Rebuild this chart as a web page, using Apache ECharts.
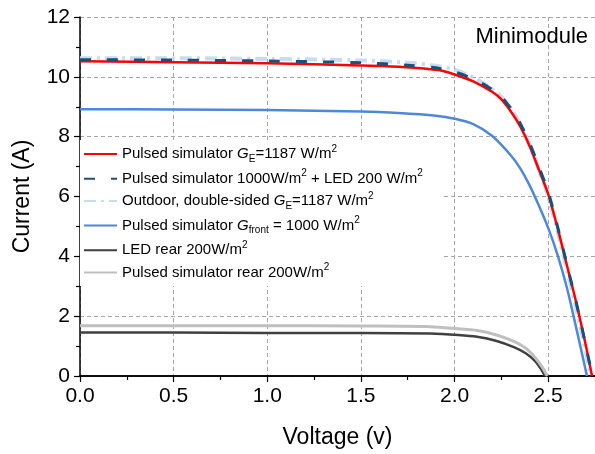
<!DOCTYPE html>
<html>
<head>
<meta charset="utf-8">
<script src="https://cdn.jsdelivr.net/npm/echarts@6/dist/echarts.min.js"></script>
<style>
  html, body { margin: 0; padding: 0; background: #fff; }
  #chart { width: 595px; height: 454px; }
</style>
</head>
<body>
<div id="chart"></div>
<script>
// I-V curves, [voltage V, current A]
const pulsedGE = [[0, 10.52], [0.5, 10.49], [1.0, 10.45], [1.5, 10.38], [1.72, 10.33], [1.92, 10.22], [2.0, 10.08], [2.1, 9.85], [2.2, 9.5], [2.25, 9.25], [2.3, 8.85], [2.35, 8.35], [2.4, 7.7], [2.45, 6.9], [2.5, 6.08], [2.55, 4.95], [2.6, 3.7], [2.65, 2.45], [2.7, 1.05], [2.734, 0]]
const pulsedLed = [[0, 10.57], [0.5, 10.56], [1.0, 10.53], [1.5, 10.47], [1.75, 10.39], [1.9, 10.3], [2.0, 10.16], [2.1, 9.93], [2.2, 9.58], [2.25, 9.33], [2.3, 8.95], [2.35, 8.45], [2.4, 7.8], [2.45, 7.0], [2.5, 6.15], [2.55, 5.0], [2.6, 3.72], [2.65, 2.45], [2.7, 1.05], [2.735, 0]]
const outdoor = [[0, 10.62], [0.5, 10.62], [1.0, 10.6], [1.5, 10.55], [1.75, 10.47], [1.9, 10.37], [2.0, 10.23], [2.1, 9.98], [2.2, 9.6], [2.25, 9.33], [2.3, 8.95], [2.35, 8.42], [2.4, 7.75], [2.45, 6.9], [2.5, 6.0], [2.55, 4.85], [2.6, 3.55], [2.65, 2.25], [2.7, 0.85], [2.728, 0]]
const pulsedFront = [[0, 8.92], [0.5, 8.91], [1.0, 8.89], [1.5, 8.84], [1.7, 8.79], [1.9, 8.7], [2.0, 8.6], [2.1, 8.42], [2.2, 8.03], [2.3, 7.38], [2.35, 6.95], [2.4, 6.38], [2.45, 5.7], [2.5, 4.95], [2.55, 4.05], [2.6, 2.95], [2.65, 1.6], [2.7, 0.2], [2.707, 0]]
const ledRear = [[0, 1.45], [0.5, 1.45], [1.0, 1.44], [1.5, 1.44], [1.87, 1.42], [2.02, 1.37], [2.12, 1.31], [2.22, 1.18], [2.32, 0.96], [2.38, 0.76], [2.43, 0.5], [2.465, 0.2], [2.483, 0]]
const pulsedRear = [[0, 1.68], [0.5, 1.68], [1.0, 1.68], [1.5, 1.67], [1.87, 1.65], [2.02, 1.58], [2.12, 1.52], [2.22, 1.38], [2.32, 1.15], [2.38, 0.93], [2.43, 0.62], [2.47, 0.28], [2.495, 0]]

const seriesNames = [
  'Pulsed simulator GE=1187 W/m2',
  'Pulsed simulator 1000W/m2 + LED 200 W/m2',
  'Outdoor, double-sided GE=1187 W/m2',
  'Pulsed simulator Gfront = 1000 W/m2',
  'LED rear 200W/m2',
  'Pulsed simulator rear 200W/m2'
]
// rich text versions for the legend
const legendLabels = [
  '{n|Pulsed simulator }{i|G}{s|E}{n|=1187 W/m}{p|2}',
  '{n|Pulsed simulator 1000W/m}{p|2}{n| + LED 200 W/m}{p|2}',
  '{n|Outdoor, double-sided }{i|G}{s|E}{n|=1187 W/m}{p|2}',
  '{n|Pulsed simulator }{i|G}{s|front}{n| = 1000 W/m}{p|2}',
  '{n|LED rear 200W/m}{p|2}',
  '{n|Pulsed simulator rear 200W/m}{p|2}'
]

const font = "'Liberation Sans', Arial, sans-serif"
const chart = echarts.init(document.getElementById('chart'))

const gridLine = { show: true, lineStyle: { color: '#a6a6a6', type: [4, 3], width: 1 } }

function curve(name, data, color, width, type, z) {
  return {
    name: name,
    type: 'line',
    data: data,
    symbol: 'none',
    smooth: 0.3,
    z: z,
    lineStyle: { color: color, width: width, type: type },
    itemStyle: { color: color }
  }
}

chart.setOption({
  backgroundColor: '#fff',
  animation: false,
  textStyle: { fontFamily: font },
  grid: { left: 80, right: 0, top: 17, bottom: 78 },
  xAxis: [
    {
      type: 'value',
      min: 0,
      max: 2.75,
      interval: 0.5,
      name: 'Voltage (v)',
      nameLocation: 'middle',
      nameGap: 50,
      nameTextStyle: { fontSize: 23, color: '#000', fontFamily: font },
      axisLine: { show: true, onZero: false, lineStyle: { color: '#000', width: 1.5 } },
      axisTick: { show: true, length: 6, lineStyle: { color: '#000', width: 1.2 } },
      minorTick: { show: true, splitNumber: 2, length: 4, lineStyle: { color: '#000', width: 1.2 } },
      axisLabel: { fontSize: 21, color: '#000', margin: 10, showMaxLabel: false, formatter: v => v.toFixed(1) },
      splitLine: gridLine
    },
    {
      type: 'value',
      position: 'top',
      min: 0,
      max: 2.75,
      axisLine: { show: true, lineStyle: { color: '#000', width: 1.5 } },
      axisTick: { show: false },
      axisLabel: { show: false },
      splitLine: { show: false }
    }
  ],
  yAxis: {
    type: 'value',
    min: 0,
    max: 12,
    interval: 2,
    name: 'Current (A)',
    nameLocation: 'middle',
    nameGap: 46,
    nameTextStyle: { fontSize: 23, color: '#000', fontFamily: font },
    axisLine: { show: true, lineStyle: { color: '#000', width: 1.5 } },
    axisTick: { show: true, length: 6, lineStyle: { color: '#000', width: 1.2 } },
    minorTick: { show: true, splitNumber: 2, length: 4, lineStyle: { color: '#000', width: 1.2 } },
    axisLabel: { fontSize: 21, color: '#000', margin: 10 },
    splitLine: gridLine
  },
  legend: {
    orient: 'vertical',
    left: 80,
    top: 140,
    itemWidth: 33,
    itemHeight: 4,
    itemGap: 4.7,
    padding: [4, 20, 6, 3],
    backgroundColor: '#fff',
    itemStyle: { opacity: 0 },
    data: seriesNames,
    formatter: name => legendLabels[seriesNames.indexOf(name)],
    textStyle: {
      color: '#000',
      fontFamily: font,
      fontSize: 15,
      rich: {
        n: { fontSize: 15, lineHeight: 20, color: '#000', fontFamily: font },
        i: { fontSize: 15, lineHeight: 20, fontStyle: 'italic', color: '#000', fontFamily: font },
        s: { fontSize: 10, lineHeight: 10, verticalAlign: 'bottom', color: '#000', fontFamily: font },
        p: { fontSize: 10, lineHeight: 10, verticalAlign: 'top', color: '#000', fontFamily: font }
      }
    }
  },
  graphic: [
    {
      type: 'text',
      right: 7,
      top: 26,
      z: 10,
      style: { text: 'Minimodule', fontSize: 22, fill: '#000', fontFamily: font }
    }
  ],
  series: [
    curve(seriesNames[0], pulsedGE, '#ff0000', 2.5, 'solid', 3),
    curve(seriesNames[1], pulsedLed, '#1f4e79', 3, [11, 16], 4),
    curve(seriesNames[2], outdoor, '#c5dcf2', 4, [12, 5, 3, 5], 2),
    curve(seriesNames[3], pulsedFront, '#4d88d9', 2.5, 'solid', 3),
    curve(seriesNames[4], ledRear, '#404040', 2.5, 'solid', 3),
    curve(seriesNames[5], pulsedRear, '#bfbfbf', 3, 'solid', 3)
  ]
})
</script>
</body>
</html>
